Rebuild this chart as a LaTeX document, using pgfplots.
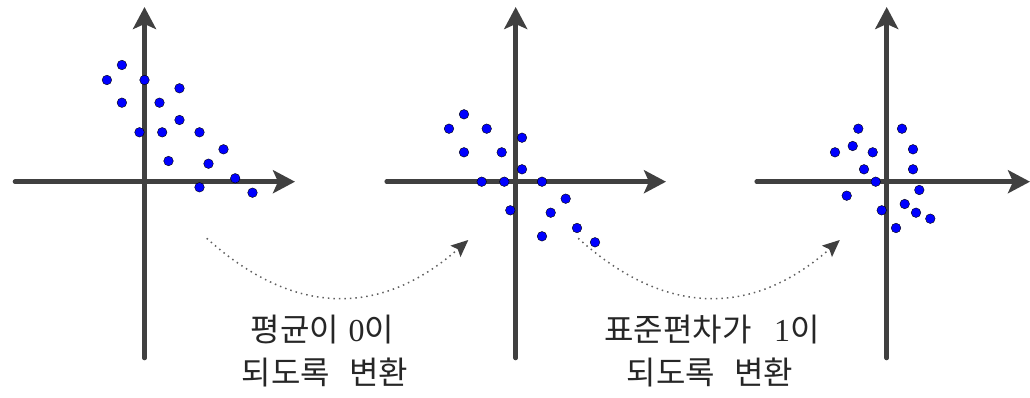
\documentclass[border=0pt]{standalone}
\usepackage{fontspec}
\usepackage{pgfplots}
\usepackage{pgfplotstable}
\pgfplotsset{compat=1.18}
\usetikzlibrary{arrows.meta}
\newfontfamily\kr{Noto Sans CJK KR}
\newfontfamily\lser{Liberation Serif}
\definecolor{axisgray}{HTML}{404040}
\definecolor{dotblue}{RGB}{0,0,255}
\definecolor{curvegray}{HTML}{606060}

\pgfplotstableread{
x y
-22.6 116.7
-37.6 101.7
0.0 101.7
35.0 93.4
-22.6 79.0
15.0 79.0
35.0 61.7
-5.0 49.4
17.7 49.4
55.0 49.4
79.0 32.4
24.0 20.7
64.0 18.0
90.7 3.4
55.0 -5.6
108.0 -11.0
}\dataA

\pgfplotstableread{
x y
-51.7 67.4
-66.7 53.0
-29.0 53.0
6.3 44.0
-51.7 29.4
-14.0 29.4
6.3 12.4
-34.0 0.0
-11.4 0.0
26.3 0.0
50.0 -17.0
-5.4 -28.6
35.0 -31.0
61.3 -46.3
26.3 -54.6
79.3 -60.6
}\dataB

\pgfplotstableread{
x y
-28.4 53.0
15.3 53.0
-34.0 35.7
-51.7 29.4
-14.0 29.4
26.3 32.4
-22.7 12.4
26.3 12.4
-11.0 0.0
32.6 -8.3
-40.0 -14.0
18.0 -22.3
-5.0 -28.6
29.3 -31.0
43.6 -37.0
9.3 -46.3
}\dataC

\pgfplotsset{panel/.style={
  scale only axis, axis lines=middle, xtick=\empty, ytick=\empty,
  ymin=-176.3, ymax=174.7, height=351pt, clip=false,
  axis line style={draw=axisgray, line width=4.6pt, line cap=round,
    -{Stealth[length=22pt,width=23pt,inset=5pt]}},
  anchor=south west,
}}
\tikzset{dotstyle/.style={only marks, mark=*, mark size=4.8pt,
  mark options={draw=none, fill=dotblue}}}
\tikzset{curv/.style={draw=curvegray, line width=1.5pt, dash pattern=on 1.5pt off 4pt,
  -{Stealth[length=17pt,width=15pt,inset=3pt,color=axisgray]}}}
\tikzset{lbl/.style={font=\kr\fontsize{32}{40}\selectfont, text=black!85}}

\begin{document}
\begin{tikzpicture}[x=1pt,y=1pt]
\useasboundingbox (0,0) rectangle (1030,397);
\draw[curv] (206.7,158.7) .. controls (294,80) and (381,80) .. (468.3,157);
\draw[curv] (578.2,158.7) .. controls (665.5,80) and (752.5,80) .. (839.8,157);

\begin{axis}[panel, at={(15,39)}, xmin=-129.5, xmax=150.5, width=280pt]
\addplot[dotstyle] table {\dataA};
\end{axis}
\begin{axis}[panel, at={(386.7,39)}, xmin=-129, xmax=150.3, width=279.3pt]
\addplot[dotstyle] table {\dataB};
\end{axis}
\begin{axis}[panel, at={(756.7,39)}, xmin=-130, xmax=143.3, width=273.3pt]
\addplot[dotstyle] table {\dataC};
\end{axis}

\node[lbl] at (322.5,67) {평균이\hspace{0.3em}{\lser 0}이};
\node[lbl] at (325,25) {되도록\hspace{0.6em}변환};
\node[lbl] at (712,67) {표준편차가\hspace{0.7em}{\lser 1}이};
\node[lbl] at (710,25) {되도록\hspace{0.6em}변환};
\end{tikzpicture}
\end{document}
